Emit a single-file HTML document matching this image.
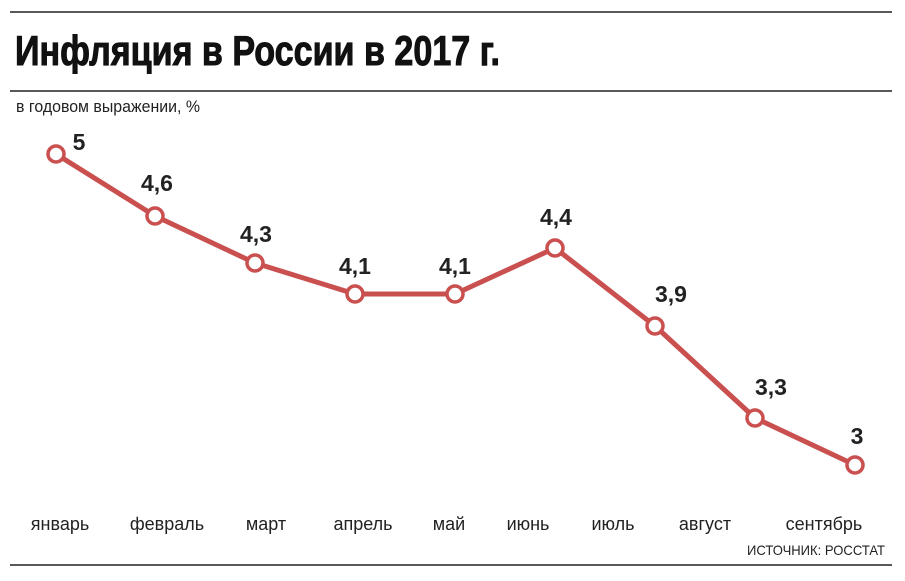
<!DOCTYPE html>
<html><head><meta charset="utf-8"><style>
body{margin:0;background:#fff;}
svg{display:block;font-family:"Liberation Sans",sans-serif;}
</style></head><body>
<svg width="905" height="581" viewBox="0 0 905 581">
<line x1="10" y1="12" x2="892" y2="12" stroke="#222" stroke-width="1.5"/>
<line x1="10" y1="91" x2="892" y2="91" stroke="#222" stroke-width="1.5"/>
<line x1="10" y1="565" x2="892" y2="565" stroke="#222" stroke-width="1.5"/>
<text x="15" y="65" font-size="42" font-weight="bold" fill="#111" stroke="#111" stroke-width="1" textLength="485" lengthAdjust="spacingAndGlyphs">Инфляция в России в 2017 г.</text>
<text x="16" y="112" font-size="17" fill="#222" textLength="184" lengthAdjust="spacingAndGlyphs">в годовом выражении, %</text>
<polyline points="56,154 155,216 255,263 355,294 455,294 555,248 655,326 755,418 855,465" fill="none" stroke="#c9504f" stroke-width="5" stroke-linejoin="round"/>
<g fill="#fff" stroke="#c9504f" stroke-width="3.5">
<circle cx="56" cy="154" r="8"/><circle cx="155" cy="216" r="8"/><circle cx="255" cy="263" r="8"/><circle cx="355" cy="294" r="8"/><circle cx="455" cy="294" r="8"/><circle cx="555" cy="248" r="8"/><circle cx="655" cy="326" r="8"/><circle cx="755" cy="418" r="8"/><circle cx="855" cy="465" r="8"/>
</g>
<g font-size="23" font-weight="bold" fill="#222" text-anchor="middle">
<text x="79" y="150">5</text>
<text x="157" y="191">4,6</text>
<text x="256" y="242">4,3</text>
<text x="355" y="274">4,1</text>
<text x="455" y="274">4,1</text>
<text x="556" y="225">4,4</text>
<text x="671" y="302">3,9</text>
<text x="771" y="395">3,3</text>
<text x="857" y="444">3</text>
</g>
<g font-size="18" fill="#222" text-anchor="middle">
<text x="60" y="530">январь</text>
<text x="167" y="530">февраль</text>
<text x="266" y="530">март</text>
<text x="363" y="530">апрель</text>
<text x="449" y="530">май</text>
<text x="528" y="530">июнь</text>
<text x="613" y="530">июль</text>
<text x="705" y="530">август</text>
<text x="824" y="530">сентябрь</text>
</g>
<text x="885" y="555" font-size="14" fill="#222" text-anchor="end" textLength="138" lengthAdjust="spacingAndGlyphs">ИСТОЧНИК: РОССТАТ</text>
</svg>
</body></html>
